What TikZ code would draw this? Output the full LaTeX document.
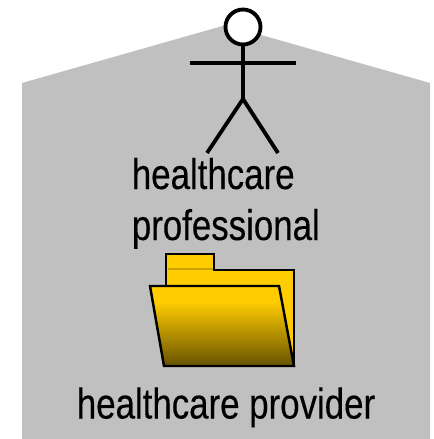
\documentclass[tikz,border=0pt]{standalone}
\usepackage{fontspec}
\setmainfont[FakeStretch=0.813,FakeBold=0.25]{Liberation Sans}
\definecolor{housegray}{RGB}{192,192,192}
\definecolor{folderyellow}{RGB}{255,204,0}
\definecolor{folderdark}{RGB}{102,82,0}
\pgfdeclareverticalshading{foldershade}{100bp}{color(0bp)=(folderdark); color(25bp)=(folderdark); color(65bp)=(folderyellow); color(100bp)=(folderyellow)}
\tikzset{
  stickline/.style={color=black, line width=2.2pt},
  folderline/.style={color=black, line width=1.4pt, line join=miter},
  caption/.style={anchor=base west, inner sep=0pt, font=\fontsize{24.4pt}{28pt}\selectfont},
}
\begin{document}
\begin{tikzpicture}[%
      x=0.02cm, y=-0.02cm,
      ]
      \useasboundingbox (0,0) rectangle (433,439);
      \fill [color=housegray] (22,83) -- (226,25) -- (430,83) -- (430,439) -- (22,439) -- cycle;

      \draw [stickline] (243,45) -- (243,99);
      \draw [stickline] (190,63) -- (296,63);
      \draw [stickline] (207,153) -- (243,99) -- (278,153);
      \filldraw [stickline, fill=white] (243,27) circle (17.5);

      \filldraw [folderline, fill=folderyellow] (166,286) -- (166,254) -- (214,254) -- (214,270) -- (294,270) -- (294,366) -- (166,366) -- cycle;
      \draw [color=folderyellow!80!black, line width=0.7pt] (168,269) -- (213,269);
      \shade [shading=foldershade] (150,286) -- (279,286) -- (294,366) -- (164,366) -- cycle;
      \draw [folderline] (150,286) -- (279,286) -- (294,366) -- (164,366) -- cycle;

      \node [caption] (professional1) at (131.5,189) {healthcare};
      \node [caption] (professional2) at (131.5,240) {professional};
      \node [caption] (provider) at (76.5,418.5) {healthcare provider};
\end{tikzpicture}
\end{document}
